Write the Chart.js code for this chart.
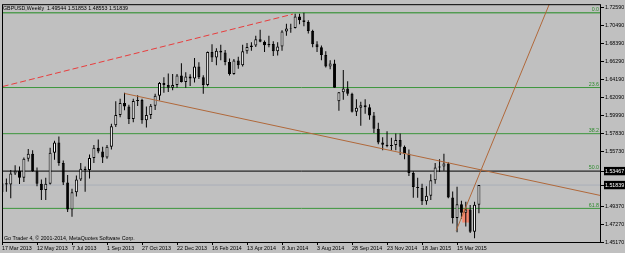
<!DOCTYPE html>
<html>
<head>
<meta charset="utf-8">
<script src="https://cdn.jsdelivr.net/npm/chart.js@4.4.1/dist/chart.umd.min.js"></script>
<style>
  html, body { margin: 0; padding: 0; background: #c0c0c0; }
  #wrap { width: 625px; height: 253px; }
</style>
</head>
<body>
<div id="wrap"><canvas id="canvas" width="625" height="253"></canvas></div>
<script>
// GBPUSD weekly bars, first visible bar = week of 17 Mar 2013
var opens = [
  1.5100, 1.5205, 1.5190, 1.5320, 1.5350, 1.5270, 1.5490, 1.5550, 1.5345, 1.5200,
  1.5125, 1.5200, 1.5560, 1.5680, 1.5440, 1.5215, 1.4900, 1.5100, 1.5250, 1.5375,
  1.5360, 1.5500, 1.5620, 1.5575, 1.5505, 1.5630, 1.5880, 1.6000, 1.6140, 1.6100,
  1.5955, 1.6165, 1.6175, 1.5940, 1.6000, 1.6110, 1.6225, 1.6375, 1.6350, 1.6320,
  1.6350, 1.6460, 1.6385, 1.6450, 1.6425, 1.6565, 1.6440, 1.6350, 1.6735, 1.6670,
  1.6750, 1.6730, 1.6620, 1.6480, 1.6635, 1.6580, 1.6745, 1.6795, 1.6810, 1.6885,
  1.6855, 1.6815, 1.6830, 1.6745, 1.6800, 1.6975, 1.7010, 1.7015, 1.7150, 1.7105,
  1.7085, 1.6980, 1.6825, 1.6790, 1.6700, 1.6565, 1.6600, 1.6160, 1.6265, 1.6310,
  1.6250, 1.6040, 1.6085, 1.6115, 1.6090, 1.5995, 1.5840, 1.5680, 1.5655, 1.5640,
  1.5650, 1.5710, 1.5630, 1.5550, 1.5325, 1.5160, 1.5150, 1.4995, 1.5060, 1.5240,
  1.5390, 1.5400, 1.5435, 1.5040, 1.4800, 1.4960, 1.4860, 1.4900, 1.4640, 1.49544
];
var highs = [
  1.5245, 1.5260, 1.5360, 1.5415, 1.5400, 1.5505, 1.5605, 1.5590, 1.5390, 1.5250,
  1.5270, 1.5620, 1.5700, 1.5750, 1.5470, 1.5300, 1.5140, 1.5295, 1.5440, 1.5400,
  1.5540, 1.5650, 1.5715, 1.5630, 1.5650, 1.5900, 1.6160, 1.6190, 1.6260, 1.6120,
  1.6190, 1.6230, 1.6190, 1.6100, 1.6130, 1.6250, 1.6385, 1.6440, 1.6485, 1.6480,
  1.6480, 1.6605, 1.6500, 1.6475, 1.6665, 1.6615, 1.6465, 1.6740, 1.6825, 1.6780,
  1.6820, 1.6760, 1.6660, 1.6655, 1.6680, 1.6820, 1.6840, 1.6850, 1.6925, 1.6996,
  1.6870, 1.6925, 1.6860, 1.6850, 1.6990, 1.7065, 1.7065, 1.7180, 1.7180, 1.7192,
  1.7105, 1.6995, 1.6860, 1.6810, 1.6745, 1.6640, 1.6645, 1.6270, 1.6525, 1.6395,
  1.6260, 1.6185, 1.6155, 1.6185, 1.6125, 1.6035, 1.5910, 1.5740, 1.5810, 1.5735,
  1.5785, 1.5785, 1.5645, 1.5600, 1.5345, 1.5270, 1.5200, 1.5170, 1.5310, 1.5440,
  1.5485, 1.5550, 1.5450, 1.5110, 1.5165, 1.5000, 1.4990, 1.4950, 1.4990, 1.51853
];
var lows = [
  1.5050, 1.5105, 1.5030, 1.5300, 1.5195, 1.5220, 1.5460, 1.5340, 1.5170, 1.5010,
  1.5010, 1.5190, 1.5480, 1.5410, 1.5185, 1.4870, 1.4814, 1.5050, 1.5230, 1.5105,
  1.5260, 1.5440, 1.5555, 1.5440, 1.5490, 1.5600, 1.5860, 1.5975, 1.6055, 1.5895,
  1.5915, 1.6105, 1.5900, 1.5855, 1.5955, 1.6060, 1.6170, 1.6260, 1.6270, 1.6290,
  1.6320, 1.6380, 1.6320, 1.6340, 1.6380, 1.6420, 1.6250, 1.6335, 1.6620, 1.6580,
  1.6640, 1.6580, 1.6460, 1.6470, 1.6540, 1.6565, 1.6715, 1.6750, 1.6795, 1.6850,
  1.6735, 1.6790, 1.6690, 1.6695, 1.6750, 1.6925, 1.6960, 1.7010, 1.7060, 1.7035,
  1.6950, 1.6790, 1.6735, 1.6640, 1.6555, 1.6535, 1.6320, 1.6050, 1.6180, 1.6225,
  1.6030, 1.5990, 1.5875, 1.6015, 1.5945, 1.5790, 1.5660, 1.5590, 1.5625, 1.5590,
  1.5590, 1.5535, 1.5485, 1.5290, 1.5035, 1.5035, 1.4950, 1.4955, 1.5010, 1.5200,
  1.5335, 1.5350, 1.5030, 1.4735, 1.4635, 1.4790, 1.4700, 1.4625, 1.4565, 1.48553
];
var closes = [
  1.5205, 1.5190, 1.5320, 1.5350, 1.5270, 1.5490, 1.5550, 1.5345, 1.5200, 1.5125,
  1.5200, 1.5560, 1.5680, 1.5440, 1.5215, 1.4900, 1.5100, 1.5250, 1.5375, 1.5360,
  1.5500, 1.5620, 1.5575, 1.5505, 1.5630, 1.5870, 1.6000, 1.6140, 1.6100, 1.5955,
  1.6165, 1.6175, 1.5940, 1.6000, 1.6110, 1.6225, 1.6375, 1.6350, 1.6320, 1.6350,
  1.6460, 1.6385, 1.6450, 1.6425, 1.6565, 1.6440, 1.6350, 1.6735, 1.6670, 1.6750,
  1.6730, 1.6620, 1.6480, 1.6635, 1.6580, 1.6745, 1.6795, 1.6810, 1.6885, 1.6855,
  1.6815, 1.6830, 1.6745, 1.6800, 1.6975, 1.7010, 1.7015, 1.7150, 1.7105, 1.7085,
  1.6980, 1.6825, 1.6790, 1.6700, 1.6565, 1.6600, 1.6320, 1.6265, 1.6310, 1.6250,
  1.6040, 1.6085, 1.6115, 1.6090, 1.5995, 1.5840, 1.5680, 1.5655, 1.5640, 1.5650,
  1.5710, 1.5630, 1.5550, 1.5325, 1.5160, 1.5150, 1.4995, 1.5060, 1.5240, 1.5390,
  1.5400, 1.5435, 1.5040, 1.4800, 1.4960, 1.4860, 1.4900, 1.4640, 1.4955, 1.51839
];

// axis labels
var dateTicks = ['17 Mar 2013', '12 May 2013', '7 Jul 2013', '1 Sep 2013', '27 Oct 2013',
  '22 Dec 2013', '16 Feb 2014', '13 Apr 2014', '8 Jun 2014', '3 Aug 2014', '28 Sep 2014',
  '23 Nov 2014', '18 Jan 2015', '15 Mar 2015'];
var priceTicks = [1.72590, 1.70490, 1.68390, 1.66290, 1.64190, 1.62090, 1.59990,
  1.57830, 1.55730, 1.53467, 1.51839, 1.49370, 1.47270, 1.45170];
var markedPrices = [1.53467, 1.51839];

// chart objects
var fibLevels = [1.7192, 1.6321, 1.5783, 1.5347, 1.4912];
var fibNames = ['0.0', '23.6', '38.2', '50.0', '61.8'];
var blackLine = 1.53467;
var bidLine = 1.51839;
var redTrend = [[0.15, 1.6333], [66.5, 1.7177]];
var brownTrend = [[28, 1.6252], [137, 1.5060]];
var steepTrend = [[103.8, 1.4654], [126, 1.7407]];
var salmonBox = [105.2, 106.8, 1.4747, 1.4918];

var titleText = 'GBPUSD,Weekly  1.49544 1.51853 1.48553 1.51839';
var footText = 'Go Trader 4, \u00a9 2001-2014, MetaQuotes Software Corp.';

var xMin = 0, xMax = 136.9;
var yMin = 1.4520, yMax = 1.7293;
var smallFont = { family: 'Liberation Sans', size: 5.3 };

var wicks = [], bodies = [], bodyColors = [];
for (var i = 0; i < opens.length; i++) {
  wicks.push({ x: i, y: [lows[i], highs[i]] });
  bodies.push({ x: i, y: [Math.min(opens[i], closes[i]), Math.max(opens[i], closes[i])] });
  bodyColors.push(closes[i] >= opens[i] ? '#ffffff' : '#000000');
}

function hLine(price, color) {
  return {
    type: 'line', data: [{ x: xMin, y: price }, { x: xMax, y: price }],
    borderColor: color, borderWidth: 1, pointRadius: 0, order: 3
  };
}
function trend(pts, color, dash) {
  return {
    type: 'line', data: pts.map(function (p) { return { x: p[0], y: p[1] }; }),
    borderColor: color, borderWidth: 1, borderDash: dash || [], pointRadius: 0, order: 0
  };
}

var datasets = [
  {
    label: 'bodies', data: bodies, backgroundColor: bodyColors, borderColor: '#000',
    borderWidth: 1, borderSkipped: false, barThickness: 3, grouped: false, inflateAmount: 0, order: 1
  },
  {
    label: 'wicks', data: wicks, backgroundColor: '#000', borderWidth: 0,
    barThickness: 1, grouped: false, inflateAmount: 0, order: 2
  },
  hLine(bidLine, '#a9aeb8'),
  hLine(blackLine, '#000000')
];
fibLevels.forEach(function (lv, k) {
  if (k !== 3) datasets.push(hLine(lv, k === 0 ? '#1f8a1f' : '#3c963c'));
});
datasets.push(trend(redTrend, '#e83c3c', [6, 3]));
datasets.push(trend(brownTrend, '#b0683a'));
datasets.push(trend(steepTrend, '#b0683a'));

var extras = {
  id: 'extras',
  beforeDraw: function (chart) {
    var ctx = chart.ctx;
    ctx.save();
    ctx.fillStyle = '#c0c0c0';
    ctx.fillRect(0, 0, chart.width, chart.height);
    ctx.restore();
  },
  beforeDatasetsDraw: function (chart) {
    var ctx = chart.ctx, xs = chart.scales.x, ys = chart.scales.y;
    var x1 = xs.getPixelForValue(salmonBox[0]), x2 = xs.getPixelForValue(salmonBox[1]);
    var y1 = ys.getPixelForValue(salmonBox[3]), y2 = ys.getPixelForValue(salmonBox[2]);
    ctx.save();
    ctx.fillStyle = '#f4876e';
    ctx.fillRect(x1, y1, x2 - x1, y2 - y1);
    ctx.restore();
  },
  afterDatasetsDraw: function (chart) {
    var ctx = chart.ctx, a = chart.chartArea, ys = chart.scales.y;
    ctx.save();
    ctx.strokeStyle = '#000';
    ctx.lineWidth = 1;
    ctx.strokeRect(a.left + 0.5, a.top + 0.5, a.right - a.left - 1, a.bottom - a.top);
    ctx.font = smallFont.size + 'px "' + smallFont.family + '"';
    ctx.textAlign = 'right';
    ctx.textBaseline = 'bottom';
    ctx.fillStyle = '#2e8b2e';
    fibLevels.forEach(function (lv, k) {
      ctx.fillText(fibNames[k], a.right - 2, ys.getPixelForValue(lv) - 0.5);
    });
    ctx.fillStyle = '#000';
    ctx.textAlign = 'left';
    ctx.textBaseline = 'middle';
    ctx.fillText(titleText, a.left + 1, a.top + 4);
    ctx.fillText(footText, a.left + 2, a.bottom - 3.5);
    ctx.restore();
  }
};

new Chart(document.getElementById('canvas'), {
  type: 'bar',
  data: { datasets: datasets },
  options: {
    responsive: false,
    animation: false,
    devicePixelRatio: 1,
    layout: { padding: { left: 2, top: 3, right: 0, bottom: 0 } },
    plugins: { legend: { display: false }, tooltip: { enabled: false }, title: { display: false } },
    scales: {
      x: {
        type: 'linear', min: xMin, max: xMax, offset: false,
        afterFit: function (s) { s.height = 11; },
        afterBuildTicks: function (s) {
          s.ticks = dateTicks.map(function (d, k) { return { value: k * 8 }; });
        },
        grid: { drawOnChartArea: false, drawTicks: true, tickLength: 3, tickColor: '#000', offset: false },
        border: { display: false },
        ticks: {
          autoSkip: false, maxRotation: 0, align: 'start', padding: 0,
          color: '#000', font: smallFont,
          callback: function (v) { return dateTicks[Math.round(v / 8)]; }
        }
      },
      y: {
        type: 'linear', position: 'right', min: yMin, max: yMax,
        afterFit: function (s) { s.width = 24; },
        afterBuildTicks: function (s) {
          s.ticks = priceTicks.map(function (p) { return { value: p }; });
        },
        grid: { drawOnChartArea: false, drawTicks: true, tickLength: 3, tickColor: '#000' },
        border: { display: false },
        ticks: {
          padding: 1, font: smallFont,
          color: function (c) { return markedPrices.indexOf(c.tick.value) >= 0 ? '#fff' : '#000'; },
          showLabelBackdrop: function (c) { return markedPrices.indexOf(c.tick.value) >= 0; },
          backdropColor: '#000',
          backdropPadding: { top: 1, bottom: 1, left: 1, right: 2 },
          callback: function (v) { return v.toFixed(5); }
        }
      }
    }
  },
  plugins: [extras]
});
</script>
</body>
</html>
